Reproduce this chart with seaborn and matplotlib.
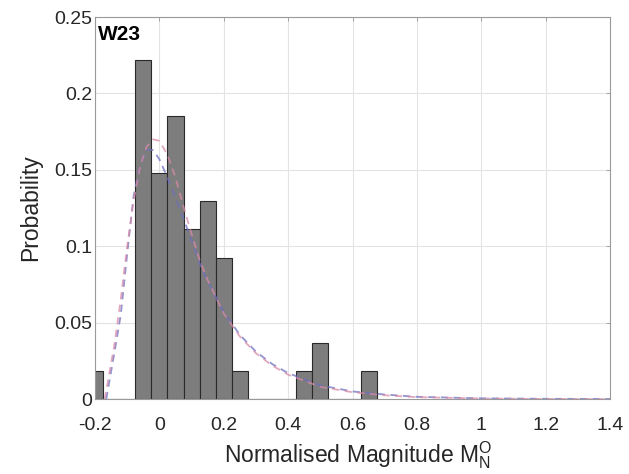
import numpy as np
import pandas as pd
import matplotlib
matplotlib.use("Agg")
import matplotlib.pyplot as plt
import seaborn as sns

# ---- data ----
bin_centers = [-0.2, -0.05, 0.0, 0.05, 0.1, 0.15, 0.2, 0.25, 0.45, 0.5, 0.65]
probabilities = [0.0185, 0.2222, 0.1481, 0.1852, 0.1111, 0.1296, 0.0926, 0.0185,
                 0.0185, 0.0370, 0.0185]
bin_edges = [-0.225 + 0.05 * i for i in range(19)]

fit1_x = [-0.165, -0.14, -0.12, -0.10, -0.08, -0.06, -0.04, -0.02, 0.0, 0.025, 0.05,
          0.075, 0.1, 0.125, 0.15, 0.2, 0.25, 0.3, 0.35, 0.4, 0.5, 0.6, 0.7, 0.8,
          1.0, 1.2, 1.4]
fit1_y = [0.0, 0.03, 0.055, 0.095, 0.133, 0.153, 0.163, 0.163, 0.157, 0.145, 0.132,
          0.118, 0.104, 0.089, 0.077, 0.057, 0.042, 0.031, 0.023, 0.017, 0.009,
          0.005, 0.003, 0.0015, 0.0005, 0.0002, 0.0001]
fit2_x = [-0.17, -0.14, -0.12, -0.10, -0.08, -0.06, -0.04, -0.02, 0.0, 0.025, 0.05,
          0.075, 0.1, 0.125, 0.15, 0.2, 0.25, 0.3, 0.35, 0.4, 0.5, 0.6, 0.7, 0.8,
          1.0, 1.2, 1.4]
fit2_y = [0.0, 0.035, 0.065, 0.1, 0.13, 0.152, 0.165, 0.170, 0.169, 0.16, 0.145,
          0.126, 0.108, 0.091, 0.078, 0.056, 0.041, 0.030, 0.022, 0.016, 0.008,
          0.0045, 0.0025, 0.0013, 0.0004, 0.0001, 0.0]

x_ticks = [-0.2, 0, 0.2, 0.4, 0.6, 0.8, 1, 1.2, 1.4]
x_tick_labels = ["-0.2", "0", "0.2", "0.4", "0.6", "0.8", "1", "1.2", "1.4"]
y_ticks = [0, 0.05, 0.1, 0.15, 0.2, 0.25]
y_tick_labels = ["0", "0.05", "0.1", "0.15", "0.2", "0.25"]

sns.set_style("white")
plt.rcParams["font.family"] = ["Liberation Sans", "DejaVu Sans"]
plt.rcParams["mathtext.fontset"] = "custom"
plt.rcParams["mathtext.rm"] = "Liberation Sans"
plt.rcParams["mathtext.it"] = "Liberation Sans"
plt.rcParams["mathtext.default"] = "regular"

fig = plt.figure(figsize=(6.29, 4.74), dpi=100)
ax = fig.add_axes([0.151, 0.158, 0.819, 0.806])

hist_df = pd.DataFrame({"x": bin_centers, "w": probabilities})
sns.histplot(data=hist_df, x="x", weights="w", bins=bin_edges, stat="count",
             color="#7d7d7d", edgecolor="#2a2a2a", linewidth=0.8, alpha=1.0,
             ax=ax, zorder=2)

f1 = pd.DataFrame({"x": fit1_x, "y": fit1_y})
f2 = pd.DataFrame({"x": fit2_x, "y": fit2_y})
sns.lineplot(data=f1, x="x", y="y", ax=ax, color="#6f6fc0", linewidth=1.3,
             dashes=False, linestyle=(0, (4, 3)), alpha=0.75, zorder=3)
sns.lineplot(data=f2, x="x", y="y", ax=ax, color="#d98aa8", linewidth=1.3,
             dashes=False, linestyle=(0, (4, 3)), alpha=0.75, zorder=3)

ax.set_xlim(-0.2, 1.4)
ax.set_ylim(0, 0.25)
ax.set_xticks(x_ticks)
ax.set_xticklabels(x_tick_labels)
ax.set_yticks(y_ticks)
ax.set_yticklabels(y_tick_labels)
ax.grid(True, color="#e3e3e3", linewidth=0.8, zorder=0)
ax.set_axisbelow(True)
ax.tick_params(direction="in", top=True, right=True, length=3, width=0.6,
               colors="#9a9a9a", labelcolor="#262626", labelsize=14)
ax.tick_params(axis="x", pad=13)
ax.tick_params(axis="y", pad=2)
for s in ax.spines.values():
    s.set_color("#9a9a9a")
    s.set_linewidth(0.8)

ax.set_xlabel("Normalised Magnitude $M_N^O$", fontsize=16.5, color="#262626")
ax.set_ylabel("Probability", fontsize=16.5, color="#262626", labelpad=9)
ax.xaxis.set_label_coords(0.51, -0.105)
ax.text(0.005, 0.98, "W23", transform=ax.transAxes, fontsize=15,
        fontweight="bold", va="top", ha="left", color="black")

fig.savefig("out.png", dpi=100)
